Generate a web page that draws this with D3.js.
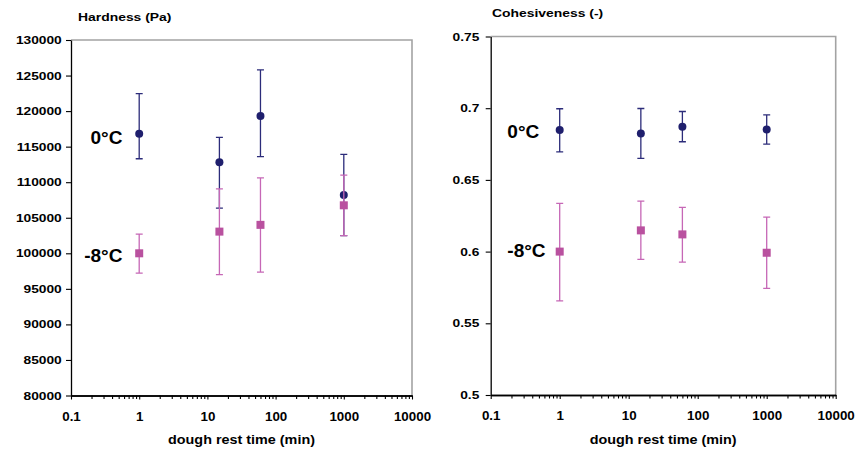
<!DOCTYPE html>
<html>
<head>
<meta charset="utf-8">
<script src="https://cdn.jsdelivr.net/npm/d3@7"></script>
<style>
body { margin: 0; background: #fff; }
svg text { font-family: "Liberation Sans", Arial, sans-serif; font-weight: bold; fill: #000; }
</style>
</head>
<body>
<div id="chart"></div>
<script>
// shared x values (dough rest time in min) and x tick labels
const restTimes = [1, 15, 60, 1000];
const xTickValues = [0.1, 1, 10, 100, 1000, 10000];
const xTickLabels = ["0.1", "1", "10", "100", "1000", "10000"];
const seriesNames = ["0°C", "-8°C"];

// hardness (Pa), mean and error bar ends
const hardness0 = [116800, 112800, 119300, 108200];
const hardness0High = [122450, 116300, 125800, 113900];
const hardness0Low = [113300, 106350, 113600, 102500];
const hardness8 = [100000, 103050, 104000, 106750];
const hardness8High = [102700, 109050, 110600, 111000];
const hardness8Low = [97200, 97000, 97350, 102500];
const hardnessTicks = [80000, 85000, 90000, 95000, 100000, 105000, 110000, 115000, 120000, 125000, 130000];
const hardnessTickLabels = ["80000", "85000", "90000", "95000", "100000", "105000", "110000", "115000", "120000", "125000", "130000"];

// cohesiveness (-), mean and error bar ends
const cohesiveness0 = [0.6848, 0.6824, 0.687, 0.6852];
const cohesiveness0High = [0.6996, 0.6998, 0.6977, 0.6954];
const cohesiveness0Low = [0.6696, 0.665, 0.6766, 0.675];
const cohesiveness8 = [0.600, 0.6148, 0.612, 0.5992];
const cohesiveness8High = [0.6336, 0.6352, 0.6308, 0.624];
const cohesiveness8Low = [0.5657, 0.5946, 0.5927, 0.5744];
const cohesivenessTicks = [0.5, 0.55, 0.6, 0.65, 0.7, 0.75];
const cohesivenessTickLabels = ["0.5", "0.55", "0.6", "0.65", "0.7", "0.75"];

const BLUE = "#1f1f6d";
const BLUE_BAR = "#2c2c7a";
const PINK = "#b9519f";
const PINK_BAR = "#c667b6";

/*
 *  Put a text at x,y, stretched horizontally by sx.
 */
function addText(g, str, x, y, size, sx, anchor) {
    return g.append("text")
        .attr("transform", "translate(" + x + "," + y + ") scale(" + sx + ",1)")
        .attr("text-anchor", anchor)
        .style("font-size", size + "px")
        .text(str);
}

class ScatterPanel {

    constructor(svg, opts) {
        this.svg = svg;
        this.opts = opts;
        this.x = d3.scaleLog().domain([0.1, 10000]).range([opts.left, opts.right]);
        this.y = d3.scaleLinear().domain(opts.yDomain).range([opts.bottom, opts.top]);
        this.g = svg.append("g");
    }

    draw() {
        this.drawFrame();
        this.drawAxes();
        this.drawSeries(this.opts.series[0], BLUE, BLUE_BAR, "circle");
        this.drawSeries(this.opts.series[1], PINK, PINK_BAR, "square");
        this.drawLabels();
    }

    /*
     *  Gray top and right border of the plot area.
     */
    drawFrame() {
        let o = this.opts;
        this.g.append("path")
            .attr("d", "M" + o.left + "," + o.top + "H" + o.right + "V" + o.bottom)
            .attr("fill", "none")
            .attr("stroke", "#a3a3a3")
            .attr("stroke-width", 1.6);
    }

    drawAxes() {
        let o = this.opts;

        let yAxis = d3.axisLeft(this.y)
            .tickValues(o.yTicks)
            .tickFormat((d, i) => o.yTickLabels[i])
            .tickSize(5)
            .tickSizeOuter(0)
            .tickPadding(o.yPad);
        let ya = this.g.append("g")
            .attr("transform", "translate(" + o.left + ",0)")
            .call(yAxis);
        ya.selectAll("text")
            .attr("transform", "scale(1.25,1)")
            .style("font-size", "11px");

        // minor ticks first, from the log scale's own ticks
        let minor = this.x.ticks().filter(d => xTickValues.indexOf(d) < 0);
        this.g.append("g")
            .attr("transform", "translate(0," + o.bottom + ")")
            .call(d3.axisBottom(this.x).tickValues(minor).tickFormat("").tickSize(3.5).tickSizeOuter(0));

        let xAxis = d3.axisBottom(this.x)
            .tickValues(xTickValues)
            .tickFormat((d, i) => xTickLabels[i])
            .tickSize(4)
            .tickSizeOuter(0)
            .tickPadding(12.5);
        let xa = this.g.append("g")
            .attr("transform", "translate(0," + o.bottom + ")")
            .call(xAxis);
        xa.selectAll("text")
            .attr("transform", "scale(1.07,1)")
            .style("font-size", "12.5px");

        this.g.selectAll(".domain").attr("stroke", "#000").attr("stroke-width", 1.3);
        this.g.selectAll(".tick line").attr("stroke", "#000").attr("stroke-width", 1.1);

        addText(this.g, "dough rest time (min)", (o.left + o.right) / 2, 444, 12.5, 1.15, "middle");
        addText(this.g, o.title, o.titleX, o.titleY, 11.5, 1.21, "start");
    }

    /*
     *  Error bars then markers for one series.
     */
    drawSeries(s, color, barColor, shape) {
        let x = this.x, y = this.y;
        let pts = restTimes.map((t, i) => ({ t: t, v: s.values[i], hi: s.high[i], lo: s.low[i] }));
        let bars = this.g.append("g")
            .attr("stroke", barColor)
            .attr("stroke-width", 1.3)
            .attr("fill", "none");
        let cap = 3.5;

        bars.selectAll("path").data(pts).enter().append("path")
            .attr("d", d => {
                let cx = x(d.t);
                return "M" + cx + "," + y(d.hi) + "V" + y(d.lo) +
                    "M" + (cx - cap) + "," + y(d.hi) + "h" + (2 * cap) +
                    "M" + (cx - cap) + "," + y(d.lo) + "h" + (2 * cap);
            });

        let marks = this.g.append("g").attr("fill", color);
        if(shape === "circle") {
            marks.selectAll("circle").data(pts).enter().append("circle")
                .attr("cx", d => x(d.t))
                .attr("cy", d => y(d.v))
                .attr("r", 4);
        }
        else {
            marks.selectAll("rect").data(pts).enter().append("rect")
                .attr("x", d => x(d.t) - 4)
                .attr("y", d => y(d.v) - 4)
                .attr("width", 8)
                .attr("height", 8);
        }
    }

    /*
     *  "0°C" and "-8°C" next to the first points.
     */
    drawLabels() {
        let o = this.opts;
        o.series.forEach((s, i) => {
            let lx = this.x(restTimes[0]) + o.labelDx;
            let ly = this.y(s.values[0]) + o.labelDy[i];
            addText(this.g, seriesNames[i], lx, ly, 18, 1.06, o.labelAnchor);
        });
    }
}

let svg = d3.select("#chart").append("svg")
    .attr("width", 859)
    .attr("height", 455);

svg.append("rect").attr("width", 859).attr("height", 455).attr("fill", "#fff");

new ScatterPanel(svg, {
    left: 71, right: 412, top: 40, bottom: 395.5,
    yDomain: [80000, 130000],
    yTicks: hardnessTicks,
    yTickLabels: hardnessTickLabels,
    yPad: 2.4,
    title: "Hardness (Pa)", titleX: 78, titleY: 20.5,
    labelDx: -16.7, labelDy: [10, 8.5], labelAnchor: "end",
    series: [
        { values: hardness0, high: hardness0High, low: hardness0Low },
        { values: hardness8, high: hardness8High, low: hardness8Low }
    ]
}).draw();

new ScatterPanel(svg, {
    left: 490.7, right: 835.7, top: 36.5, bottom: 395,
    yDomain: [0.5, 0.75],
    yTicks: cohesivenessTicks,
    yTickLabels: cohesivenessTickLabels,
    yPad: 4.1,
    title: "Cohesiveness (-)", titleX: 492, titleY: 17.3,
    labelDx: -52.4, labelDy: [8.5, 5.5], labelAnchor: "start",
    series: [
        { values: cohesiveness0, high: cohesiveness0High, low: cohesiveness0Low },
        { values: cohesiveness8, high: cohesiveness8High, low: cohesiveness8Low }
    ]
}).draw();
</script>
</body>
</html>
